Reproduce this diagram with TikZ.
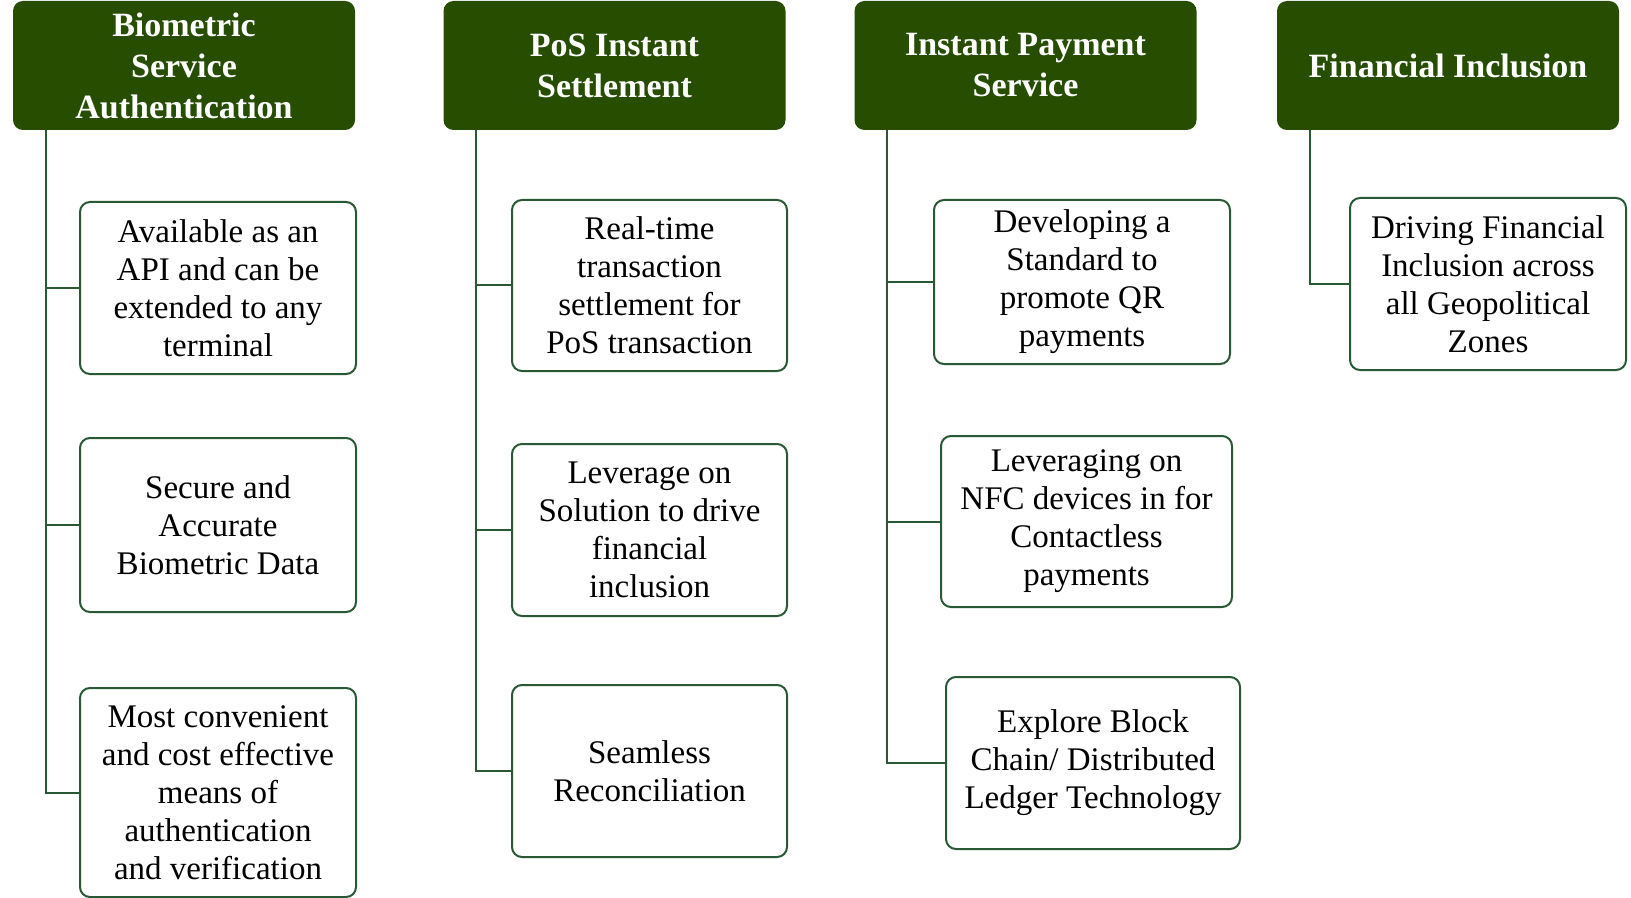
\documentclass[tikz,border=0pt]{standalone}
\usepackage{fontspec}
\setmainfont{Liberation Serif}
\usepackage{tikz}
\usetikzlibrary{
    calc,
    positioning,
}
\definecolor{HeadGreen}{RGB}{38,77,0}
\definecolor{LineGreen}{RGB}{40,88,52}
\tikzset{
    >=latex
}

\begin{document}
\begin{tikzpicture}[
    x=.5pt,y=-.5pt,
    head/.style={fill=HeadGreen,text=white,rounded corners=5pt,align=center,inner sep=0pt,
        minimum width=171pt,minimum height=64.5pt,font=\fontsize{17}{20.5}\selectfont\bfseries},
    item/.style={draw=LineGreen,line width=1pt,fill=white,rounded corners=5pt,align=center,inner sep=0pt,
        font=\fontsize{16.5}{19}\selectfont},
    conn/.style={draw=LineGreen,line width=1pt}
    ]
    \useasboundingbox (0,0) rectangle (1631,898);

    % column headers
    \node[head] (bio) at (184,65.5) {Biometric\\Service\\Authentication};
    \node[head] (pos) at (614.5,65.5) {PoS Instant\\Settlement};
    \node[head] (ips) at (1025.5,65.5) {Instant Payment\\Service};
    \node[head] (fin) at (1448,65.5) {Financial Inclusion};

    % biometric items
    \node[item,minimum width=138pt,minimum height=86pt] (bio1) at (218,288) {Available as an\\API and can be\\extended to any\\terminal};
    \node[item,minimum width=138pt,minimum height=87pt] (bio2) at (218,525) {Secure and\\Accurate\\Biometric Data};
    \node[item,minimum width=138pt,minimum height=104.5pt] (bio3) at (218,792.5) {Most convenient\\and cost effective\\means of\\authentication\\and verification};

    % pos items
    \node[item,minimum width=137.5pt,minimum height=85.5pt] (pos1) at (649.5,285.5) {Real-time\\transaction\\settlement for\\PoS transaction};
    \node[item,minimum width=137.5pt,minimum height=86pt] (pos2) at (649.5,530) {Leverage on\\Solution to drive\\financial\\inclusion};
    \node[item,minimum width=137.5pt,minimum height=86pt] (pos3) at (649.5,771) {Seamless\\Reconciliation};

    % instant payment items
    \node[item,minimum width=148pt,minimum height=82pt] (ips1) at (1082,282) {Developing a\\Standard to\\promote QR\\payments};
    \node[item,minimum width=145.5pt,minimum height=85.5pt] (ips2) at (1086.5,521.5) {Leveraging on\\NFC devices in for\\Contactless\\payments};
    \node[item,minimum width=147pt,minimum height=86pt] (ips3) at (1093,763) {Explore Block\\Chain/ Distributed\\Ledger Technology};

    % financial inclusion item
    \node[item,minimum width=138pt,minimum height=86pt] (fin1) at (1488,284) {Driving Financial\\Inclusion across\\all Geopolitical\\Zones};

    % tree lines
    \coordinate (bioT) at ([xshift=16.5pt]bio.south west);
    \coordinate (posT) at ([xshift=16.5pt]pos.south west);
    \coordinate (ipsT) at ([xshift=16.5pt]ips.south west);
    \coordinate (finT) at ([xshift=16.5pt]fin.south west);
    \foreach \col in {bio,pos,ips}
        \foreach \i in {1,2,3}
            \draw[conn] (\col T) |- (\col\i.west);
    \draw[conn] (finT) |- (fin1.west);
\end{tikzpicture}
\end{document}
